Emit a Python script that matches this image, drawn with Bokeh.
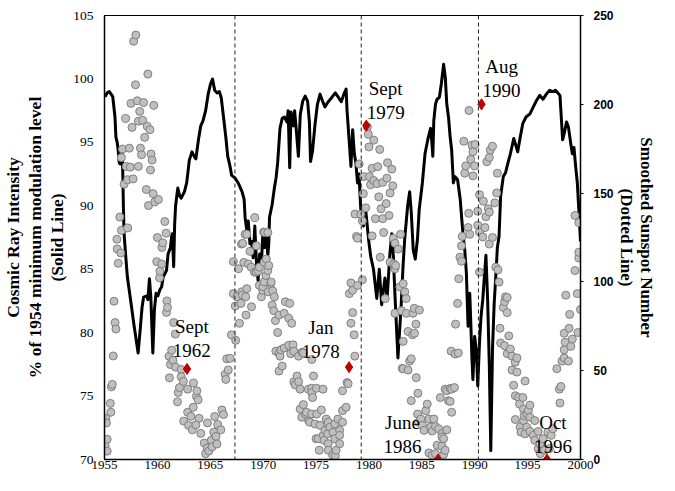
from bokeh.plotting import figure
from bokeh.models import LinearAxis, Range1d, FixedTicker, Span
from bokeh.embed import file_html
from bokeh.resources import INLINE
from bokeh.core.properties import value

# ---------------- data ----------------
x_ticks = [1955, 1960, 1965, 1970, 1975, 1980, 1985, 1990, 1995, 2000]
left_ticks = [70, 75, 80, 85, 90, 95, 100, 105]
right_ticks = [0, 50, 100, 150, 200, 250]

cr_year = [1955.06, 1955.25, 1955.46, 1955.62, 1955.78, 1955.99, 1956.08, 1956.20, 1956.29, 1956.39,
           1956.47, 1956.54, 1956.65, 1956.72, 1956.79, 1956.85, 1957.01, 1957.16, 1957.47, 1957.77,
           1958.18, 1958.40, 1958.55, 1958.70, 1959.01, 1959.10, 1959.25, 1959.38, 1959.50, 1959.57,
           1959.72, 1959.87, 1960.05, 1960.24, 1960.40, 1960.55, 1960.86, 1961.01, 1961.23, 1961.35,
           1961.42, 1961.54, 1961.63, 1961.72, 1961.93, 1962.10, 1962.25, 1962.55, 1962.77, 1963.02,
           1963.27, 1963.48, 1963.64, 1963.88, 1964.10, 1964.31, 1964.56, 1964.80, 1965.02, 1965.21,
           1965.42, 1965.63, 1965.86, 1966.04, 1966.25, 1966.47, 1966.65, 1966.87, 1967.02, 1967.33,
           1967.64, 1968.01, 1968.20, 1968.29, 1968.44, 1968.59, 1968.75, 1968.91, 1969.05, 1969.21,
           1969.37, 1969.52, 1969.67, 1969.83, 1969.98, 1970.14, 1970.29, 1970.44, 1970.53, 1970.60,
           1970.85, 1971.06, 1971.22, 1971.37, 1971.59, 1971.80, 1972.01, 1972.26, 1972.36, 1972.51,
           1972.63, 1972.88, 1972.97, 1973.10, 1973.33, 1973.51, 1973.74, 1973.97, 1974.20, 1974.37,
           1974.48, 1974.67, 1974.90, 1975.13, 1975.38, 1975.59, 1975.84, 1976.15, 1976.45, 1976.82,
           1977.07, 1977.38, 1977.63, 1977.84, 1977.93, 1978.15, 1978.30, 1978.46, 1978.62, 1978.76,
           1978.92, 1979.06, 1979.23, 1979.48, 1979.69, 1980.00, 1980.17, 1980.43, 1980.74, 1980.98,
           1981.20, 1981.51, 1981.72, 1981.97, 1982.16, 1982.31, 1982.43, 1982.74, 1983.05, 1983.24,
           1983.39, 1983.66, 1983.85, 1984.00, 1984.19, 1984.38, 1984.59, 1984.75, 1985.05, 1985.30,
           1985.61, 1985.83, 1985.95, 1986.04, 1986.13, 1986.29, 1986.44, 1986.66, 1986.84, 1987.06,
           1987.22, 1987.36, 1987.52, 1987.68, 1987.82, 1987.98, 1988.14, 1988.38, 1988.63, 1988.75,
           1988.91, 1989.06, 1989.21, 1989.37, 1989.53, 1989.62, 1989.74, 1989.83, 1989.99, 1990.14,
           1990.29, 1990.45, 1990.60, 1990.76, 1990.91, 1991.06, 1991.22, 1991.38, 1991.52, 1991.68,
           1991.84, 1991.99, 1992.14, 1992.30, 1992.45, 1992.70, 1992.91, 1993.13, 1993.37, 1993.69,
           1993.84, 1994.06, 1994.30, 1994.55, 1994.85, 1995.22, 1995.54, 1995.84, 1996.15, 1996.46,
           1996.77, 1997.07, 1997.39, 1997.63, 1997.85, 1998.06, 1998.18, 1998.31, 1998.46, 1998.68,
           1998.86, 1999.08, 1999.23, 1999.38, 1999.54, 1999.70, 1999.84, 2000.00]
cr_value = [98.6, 98.9, 99.0, 98.8, 98.6, 97.0, 95.4, 95.0, 94.4, 93.4,
            93.3, 94.6, 94.5, 93.0, 89.7, 87.8, 86.0, 84.4, 82.55, 80.7,
            78.4, 80.5, 82.0, 82.8, 82.9, 82.6, 84.25, 82.8, 80.0, 78.4,
            81.8, 83.1, 82.9, 83.4, 83.6, 84.4, 84.9, 86.2, 86.7, 87.6,
            87.8, 85.2, 88.5, 90.0, 91.4, 90.8, 90.6, 91.1, 91.8, 93.6,
            94.25, 93.9, 93.7, 95.2, 96.3, 96.7, 97.5, 98.8, 99.6, 100.0,
            99.1, 98.9, 99.0, 98.5, 97.0, 95.4, 93.9, 93.1, 92.4, 92.2,
            91.8, 91.1, 90.5, 89.1, 88.15, 88.8, 87.0, 87.2, 85.9, 88.4,
            85.4, 84.1, 86.2, 85.4, 88.0, 86.7, 88.0, 86.1, 87.0, 89.1,
            90.1, 91.4, 92.2, 93.4, 96.1, 96.9, 97.0, 96.6, 97.5, 93.0,
            97.4, 96.3, 97.5, 96.3, 93.9, 97.2, 98.25, 98.65, 98.25, 96.6,
            93.5, 94.35, 96.4, 98.0, 98.8, 98.3, 97.8, 98.2, 98.5, 98.9,
            98.6, 98.2, 98.8, 99.2, 97.5, 94.9, 93.1, 96.0, 94.1, 93.4,
            91.8, 92.5, 89.7, 88.4, 89.7, 87.1, 86.0, 85.0, 82.7, 85.0,
            82.2, 84.3, 82.7, 86.1, 87.8, 86.0, 83.5, 78.0, 82.2, 85.5,
            87.5, 90.0, 91.1, 89.5, 86.5, 85.8, 87.4, 89.7, 91.8, 94.1,
            95.4, 96.1, 95.0, 93.9, 96.7, 98.0, 98.4, 98.55, 99.6, 101.15,
            100.1, 98.0, 97.0, 95.4, 94.4, 91.8, 92.3, 92.05, 90.5, 89.2,
            87.6, 86.5, 84.7, 80.5, 83.1, 81.0, 77.9, 76.3, 79.7, 78.7,
            75.8, 79.2, 81.3, 82.6, 84.4, 86.1, 82.6, 77.4, 70.7, 78.7,
            82.3, 84.4, 86.7, 87.6, 90.75, 92.3, 92.6, 93.35, 94.1, 95.3,
            94.9, 94.25, 95.4, 96.5, 97.0, 97.25, 97.8, 98.3, 98.7, 98.4,
            98.8, 99.1, 99.0, 99.1, 98.9, 98.7, 97.0, 95.2, 95.7, 96.6,
            96.2, 94.9, 94.1, 94.6, 93.1, 91.8, 89.7, 87.2]

ss_year = [1955.06, 1955.13, 1955.18, 1955.25, 1955.25, 1955.55, 1955.60, 1955.65, 1955.74, 1955.83,
           1955.90, 1956.00, 1956.08, 1956.17, 1956.20, 1956.30, 1956.45, 1956.54, 1956.60, 1956.60,
           1956.70, 1956.85, 1957.00, 1957.07, 1957.20, 1957.20, 1957.35, 1957.44, 1957.50, 1957.60,
           1957.70, 1957.75, 1957.93, 1957.96, 1958.10, 1958.20, 1958.20, 1958.33, 1958.40, 1958.50,
           1958.60, 1958.70, 1958.80, 1958.95, 1959.04, 1959.10, 1959.16, 1959.30, 1959.35, 1959.40,
           1959.50, 1959.60, 1959.66, 1959.75, 1959.94, 1960.00, 1960.10, 1960.20, 1960.24, 1960.40,
           1960.43, 1960.50, 1960.70, 1960.83, 1960.86, 1960.90, 1960.95, 1961.10, 1961.14, 1961.23,
           1961.35, 1961.47, 1961.54, 1961.70, 1961.72, 1961.90, 1961.97, 1962.09, 1962.25, 1962.25,
           1962.46, 1962.49, 1962.86, 1962.86, 1962.95, 1963.17, 1963.30, 1963.39, 1963.41, 1963.64,
           1963.69, 1963.73, 1963.85, 1963.94, 1964.10, 1964.43, 1964.56, 1964.70, 1964.74, 1964.87,
           1965.10, 1965.17, 1965.33, 1965.42, 1965.54, 1965.63, 1965.70, 1966.00, 1966.10, 1966.25,
           1966.40, 1966.47, 1966.56, 1966.70, 1966.87, 1967.00, 1967.18, 1967.18, 1967.36, 1967.40,
           1967.52, 1967.67, 1967.76, 1967.90, 1967.95, 1967.98, 1968.04, 1968.07, 1968.17, 1968.29,
           1968.35, 1968.38, 1968.45, 1968.45, 1968.60, 1968.75, 1968.87, 1968.90, 1969.18, 1969.21,
           1969.33, 1969.37, 1969.52, 1969.64, 1969.64, 1969.83, 1969.95, 1969.98, 1970.04, 1970.10,
           1970.10, 1970.14, 1970.26, 1970.30, 1970.44, 1970.44, 1970.48, 1970.53, 1970.72, 1970.76,
           1970.85, 1970.90, 1971.00, 1971.06, 1971.16, 1971.20, 1971.37, 1971.50, 1971.50, 1971.50,
           1971.60, 1971.68, 1971.80, 1971.99, 1971.99, 1972.10, 1972.42, 1972.42, 1972.51, 1972.60,
           1972.70, 1972.82, 1972.90, 1972.90, 1973.03, 1973.20, 1973.35, 1973.35, 1973.50, 1973.50,
           1973.65, 1973.68, 1973.80, 1973.80, 1974.00, 1974.10, 1974.27, 1974.30, 1974.40, 1974.58,
           1974.58, 1974.60, 1974.60, 1974.67, 1974.76, 1974.90, 1975.00, 1975.04, 1975.06, 1975.20,
           1975.30, 1975.38, 1975.50, 1975.66, 1975.68, 1975.77, 1975.85, 1975.96, 1976.10, 1976.15,
           1976.15, 1976.15, 1976.30, 1976.57, 1976.60, 1976.77, 1976.77, 1976.82, 1976.90, 1977.07,
           1977.23, 1977.23, 1977.23, 1977.50, 1977.50, 1977.50, 1977.84, 1977.93, 1978.03, 1978.15,
           1978.30, 1978.30, 1978.46, 1978.46, 1978.60, 1978.66, 1978.68, 1978.82, 1978.92, 1978.92,
           1979.08, 1979.23, 1979.38, 1979.38, 1979.47, 1979.50, 1979.69, 1979.85, 1979.94, 1980.00,
           1980.05, 1980.16, 1980.30, 1980.30, 1980.46, 1980.46, 1980.61, 1980.77, 1980.83, 1980.93,
           1981.02, 1981.07, 1981.14, 1981.30, 1981.30, 1981.39, 1981.54, 1981.63, 1981.70, 1981.76,
           1981.90, 1982.00, 1982.00, 1982.16, 1982.25, 1982.30, 1982.37, 1982.46, 1982.46, 1982.46,
           1982.53, 1982.77, 1982.92, 1982.99, 1983.08, 1983.15, 1983.24, 1983.24, 1983.24, 1983.39,
           1983.52, 1983.54, 1983.70, 1983.70, 1983.85, 1984.00, 1984.00, 1984.12, 1984.16, 1984.28,
           1984.31, 1984.44, 1984.47, 1984.63, 1984.60, 1984.68, 1984.77, 1984.90, 1985.05, 1985.21,
           1985.37, 1985.51, 1985.67, 1985.67, 1985.83, 1985.98, 1985.98, 1986.13, 1986.29, 1986.29,
           1986.44, 1986.59, 1986.75, 1986.90, 1986.90, 1986.90, 1987.06, 1987.06, 1987.20, 1987.20,
           1987.36, 1987.36, 1987.52, 1987.68, 1987.68, 1987.77, 1987.82, 1987.82, 1988.08, 1988.14,
           1988.19, 1988.38, 1988.44, 1988.50, 1988.60, 1988.75, 1988.75, 1988.82, 1988.97, 1989.06,
           1989.15, 1989.37, 1989.43, 1989.46, 1989.53, 1989.62, 1989.74, 1989.83, 1989.83, 1989.99,
           1990.04, 1990.29, 1990.29, 1990.45, 1990.45, 1990.45, 1990.76, 1990.82, 1990.97, 1991.06,
           1991.15, 1991.28, 1991.38, 1991.38, 1991.38, 1991.47, 1991.68, 1991.68, 1991.90, 1991.99,
           1992.08, 1992.14, 1992.20, 1992.30, 1992.39, 1992.45, 1992.70, 1992.82, 1992.82, 1992.91,
           1993.07, 1993.07, 1993.07, 1993.22, 1993.37, 1993.52, 1993.52, 1993.68, 1993.83, 1993.84,
           1993.84, 1993.99, 1993.99, 1994.15, 1994.24, 1994.30, 1994.37, 1994.55, 1994.61, 1994.61,
           1994.67, 1994.76, 1994.76, 1994.92, 1994.92, 1995.07, 1995.22, 1995.22, 1995.22, 1995.54,
           1995.68, 1995.68, 1996.00, 1996.00, 1996.15, 1996.20, 1996.46, 1996.61, 1996.92, 1997.07,
           1997.23, 1997.39, 1997.76, 1998.00, 1998.06, 1998.15, 1998.25, 1998.46, 1998.46, 1998.46,
           1998.55, 1998.61, 1998.86, 1998.92, 1998.98, 1999.08, 1999.23, 1999.48, 1999.48, 1999.70,
           1999.75, 1999.84, 1999.84, 1999.84, 2000.00]
ss_value = [8.0, 23.2, 20.6, 11.4, 4.7, 31.6, 26.6, 40.9, 42.3, 58.3,
            89.1, 77.1, 73.5, 124.0, 118.5, 110.5, 136.5, 116.3, 129.0, 170.0,
            174.8, 155.0, 192.0, 165.0, 157.5, 130.4, 175.3, 164.6, 200.5, 187.0,
            158.0, 235.5, 211.0, 239.0, 202.0, 165.0, 190.5, 196.0, 175.3, 171.6,
            191.0, 201.0, 181.4, 152.0, 187.6, 217.0, 143.0, 185.7, 163.0, 172.0,
            168.6, 149.7, 199.4, 145.0, 111.4, 125.0, 146.4, 102.3, 106.0, 110.1,
            119.4, 122.0, 134.0, 127.4, 82.8, 89.3, 85.6, 58.1, 46.0, 53.5,
            61.5, 55.9, 77.1, 70.6, 52.0, 32.5, 37.7, 40.5, 50.7, 46.6,
            44.0, 21.6, 39.6, 26.6, 19.2, 24.3, 16.7, 29.4, 43.1, 19.5,
            35.5, 38.7, 33.6, 23.2, 14.7, 9.3, 3.3, 6.5, 20.6, 4.8,
            10.8, 7.1, 15.4, 24.2, 13.0, 8.7, 19.7, 16.7, 27.9, 25.3,
            47.9, 45.1, 56.7, 50.4, 57.0, 70.2, 93.4, 111.4, 86.4, 67.1,
            91.6, 107.4, 76.7, 87.9, 121.3, 94.4, 92.5, 121.7, 111.0, 126.8,
            91.6, 81.3, 126.8, 96.2, 110.1, 117.2, 108.3, 86.0, 105.5, 136.2,
            105.5, 120.3, 106.1, 108.3, 98.0, 91.6, 95.3, 97.2, 128.1, 111.0,
            100.0, 127.8, 103.6, 112.9, 127.8, 106.4, 94.4, 109.2, 99.0, 99.9,
            86.9, 94.9, 83.8, 91.6, 78.2, 61.0, 71.5, 81.3, 60.0, 49.8,
            58.2, 61.8, 52.6, 82.3, 62.8, 88.8, 64.3, 79.5, 87.9, 59.6,
            76.7, 64.6, 61.0, 43.7, 42.0, 47.0, 58.2, 43.8, 39.6, 28.4,
            23.8, 60.4, 30.9, 60.0, 25.6, 26.6, 39.6, 21.9, 21.0, 40.1,
            25.6, 56.3, 37.7, 34.9, 47.0, 20.0, 11.7, 40.1, 25.6, 11.7,
            5.2, 19.2, 27.9, 39.6, 13.6, 10.8, 16.4, 22.8, 14.5, 8.9,
            5.2, 21.0, 18.2, 2.4, 15.4, 20.0, 11.7, 2.1, 5.2, 22.8,
            16.4, 13.6, 8.9, 21.0, 27.5, 38.7, 29.4, 43.3, 42.7, 93.4,
            76.7, 99.4, 82.7, 95.3, 70.2, 58.2, 138.2, 125.6, 98.0, 124.6,
            166.4, 138.0, 101.2, 134.3, 149.7, 159.3, 141.7, 187.2, 183.1, 176.0,
            159.3, 154.7, 164.0, 125.9, 179.8, 157.1, 135.6, 155.3, 164.9, 147.9,
            174.6, 113.9, 141.2, 156.0, 135.6, 127.8, 90.6, 144.1, 158.4, 167.1,
            137.4, 150.1, 111.1, 163.5, 154.1, 124.5, 110.1, 121.7, 107.4, 82.3,
            109.2, 118.5, 97.2, 126.8, 83.8, 51.3, 99.0, 66.5, 51.1, 94.4,
            90.6, 82.3, 72.1, 50.4, 55.4, 56.7, 33.1, 70.2, 82.3, 85.1,
            71.1, 76.2, 46.1, 37.3, 25.6, 21.0, 84.1, 22.8, 19.2, 16.4,
            27.5, 31.2, 22.8, 3.7, 18.2, 16.0, 2.4, 22.8, 18.6, 3.3,
            8.0, 17.3, 34.9, 14.5, 7.5, 12.7, 11.7, 2.8, 5.2, 39.6,
            16.7, 38.7, 33.1, 32.7, 40.0, 61.0, 39.6, 26.6, 40.5, 59.4,
            76.2, 87.9, 60.0, 101.8, 113.9, 120.3, 111.6, 125.6, 179.2, 161.2,
            165.3, 130.6, 138.6, 196.5, 126.8, 169.0, 177.0, 173.3, 159.7, 165.3,
            177.4, 139.8, 131.9, 149.1, 128.1, 105.5, 125.3, 145.4, 130.6, 136.7,
            167.7, 141.2, 170.1, 139.3, 121.3, 174.2, 176.4, 125.0, 144.5, 108.3,
            150.1, 161.2, 106.8, 99.9, 73.9, 65.6, 85.6, 88.8, 64.1, 91.6,
            91.2, 82.7, 59.6, 69.6, 62.2, 58.2, 50.4, 41.8, 54.8, 35.9,
            22.5, 57.2, 49.2, 34.9, 31.2, 18.2, 15.4, 34.9, 28.4, 21.9,
            24.7, 44.2, 14.5, 25.6, 18.2, 27.5, 30.6, 23.8, 15.8, 13.6,
            21.9, 10.8, 15.8, 6.1, 8.9, 3.3, 11.7, 5.2, 15.4, 6.1,
            13.6, 17.3, 51.1, 39.6, 31.8, 41.1, 55.4, 57.2, 61.8, 71.1,
            66.0, 92.5, 55.4, 73.9, 81.7, 63.7, 67.8, 106.4, 137.4, 93.4,
            71.5, 113.5, 116.7, 133.4, 84.5]

# marked dates (sunspot axis) and their labels
mark_year = [1962.80, 1978.12, 1979.75, 1990.64, 1986.53, 1996.83]
mark_ss = [51, 52, 188, 200, 0, 0]
mark_text = ["Sept\n1962", "Jan\n1978", "Sept\n1979", "Aug\n1990", "June\n1986", "Oct\n1996"]
text_year = [1963.25, 1975.45, 1981.58, 1992.54, 1983.17, 1997.39]
text_level = [79.57, 79.49, 98.33, 100.0, 72.0, 72.0]

dash_years = [1967.33, 1979.27, 1990.35]

left_title = "Cosmic Ray Intensity\n% of 1954 minimum modulation level\n(Solid Line)"
right_title = "Smoothed Sunspot Number\n(Dotted Line)"

# ---------------- layout ----------------
W, H = 659, 475
FL, FR, FT, FB = 104, 581, 15, 459
SERIF = "Liberation Serif"

p = figure(width=W, height=H, output_backend="svg", toolbar_location=None,
           x_range=Range1d(1955, 2000), y_range=Range1d(70, 105),
           min_border_left=FL, min_border_right=W - FR, min_border_top=FT, min_border_bottom=H - FB)
p.extra_y_ranges = {"ss": Range1d(0, 250)}
p.xgrid.visible = False
p.ygrid.visible = False
p.outline_line_color = "black"
p.outline_line_width = 1
p.background_fill_color = "white"
p.border_fill_color = "white"

# bottom axis
xa = p.xaxis[0]
xa.ticker = FixedTicker(ticks=x_ticks)
xa.major_tick_out = 0
xa.major_tick_in = 0
xa.minor_tick_out = 0
xa.minor_tick_in = 0
xa.axis_line_width = 1.5
xa.axis_line_color = "black"
xa.major_label_standoff = 1
xa.major_label_text_font = SERIF
xa.major_label_text_font_size = "13px"
xa.major_label_text_color = "black"

# left axis
ya = p.yaxis[0]
ya.ticker = FixedTicker(ticks=left_ticks)
ya.major_tick_out = 0
ya.major_tick_in = 0
ya.minor_tick_out = 0
ya.minor_tick_in = 0
ya.axis_line_width = 1.5
ya.axis_line_color = "black"
ya.major_label_standoff = 11
ya.major_label_text_font = SERIF
ya.major_label_text_font_size = "13.5px"
ya.major_label_text_color = "black"
ya.axis_label = left_title
ya.axis_label_text_font = SERIF
ya.axis_label_text_font_style = "bold"
ya.axis_label_text_font_size = "17.5px"
ya.axis_label_text_line_height = 1.1
ya.axis_label_text_color = "black"
ya.axis_label_standoff = 3

# right axis
ra = LinearAxis(y_range_name="ss", ticker=FixedTicker(ticks=right_ticks))
ra.major_tick_out = 3
ra.major_tick_in = 0
ra.minor_tick_out = 0
ra.minor_tick_in = 0
ra.axis_line_width = 1.5
ra.axis_line_color = "black"
ra.major_label_standoff = 10
ra.major_label_text_font = "Liberation Sans"
ra.major_label_text_font_style = "bold"
ra.major_label_text_font_size = "12px"
ra.major_label_text_color = "black"
ra.axis_label = right_title
ra.axis_label_text_font = SERIF
ra.axis_label_text_font_style = "bold"
ra.axis_label_text_font_size = "17px"
ra.axis_label_text_line_height = 1.1
ra.axis_label_text_color = "black"
ra.axis_label_standoff = 0
p.add_layout(ra, "right")

# cosmic ray line
p.line(cr_year, cr_value, line_color="black", line_width=3, line_join="round")

# sunspot points
p.scatter(ss_year, ss_value, y_range_name="ss", marker="circle", size=8,
          fill_color="#bfbfbf", line_color="#7f7f7f", line_width=1)

# dashed verticals
for yr in dash_years:
    p.add_layout(Span(location=yr, dimension="height", line_color="#222222",
                      line_width=1, line_dash="4 3"))

# red markers
p.scatter(mark_year, mark_ss, y_range_name="ss", marker="diamond", size=11,
          fill_color="#c00000", line_color="#c00000")

# labels
p.text(x=text_year, y=text_level, text=mark_text, text_font=value(SERIF),
       text_font_size="19px", text_align="center", text_baseline="middle",
       text_line_height=1.15, text_color="black")

open("out.html", "w").write(file_html(p, INLINE))
